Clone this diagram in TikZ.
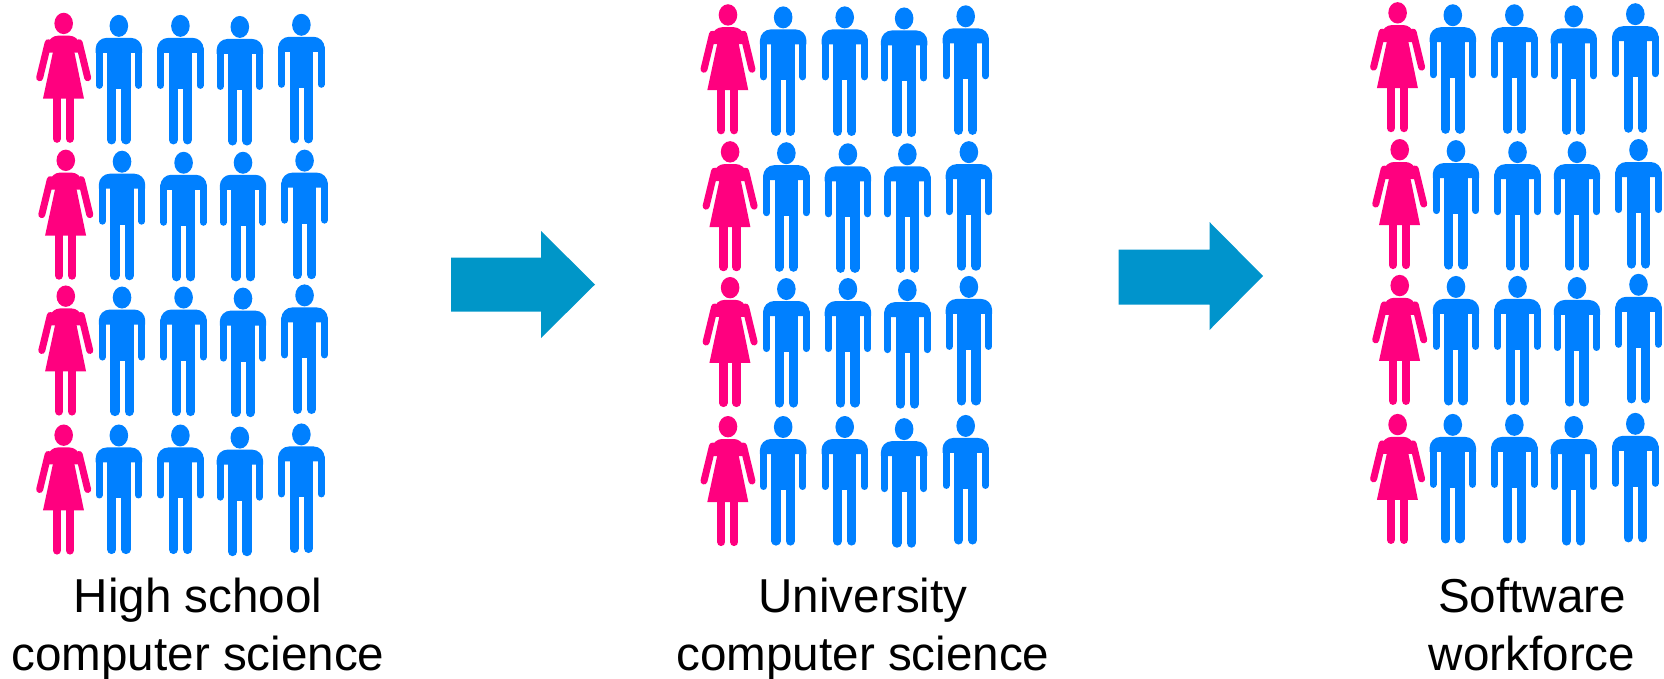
\documentclass[tikz,border=0pt]{standalone}
\usepackage{fontspec}
\setmainfont{Liberation Sans}
\definecolor{manblue}{HTML}{0080FF}
\definecolor{womanpink}{HTML}{FF007F}
\definecolor{arrowone}{HTML}{0096C8}
\definecolor{arrowtwo}{HTML}{0094CC}
\tikzset{
  limb/.style={line cap=round,line width=#1},
  caption/.style={font=\fontsize{47.6}{58}\selectfont,align=center,inner sep=0pt,text=black},
  pics/man/.style={code={
    \fill[manblue] (0,11) ellipse [x radius=9.3,y radius=11];
    \fill[manblue] (-23.2,38) [rounded corners=11] -- (-23.2,23) -- (23.2,23) [sharp corners] -- (23.2,38) -- cycle;
    \fill[manblue] (-11.7,30) rectangle (11.7,74);
    \draw[manblue,limb=7] (-19.7,34) -- (-19.7,70.5);
    \draw[manblue,limb=7] (19.7,34) -- (19.7,70.5);
    \draw[manblue,limb=9.2] (-7.1,70) -- (-7.1,125);
    \draw[manblue,limb=9.2] (7.1,70) -- (7.1,125);
  }},
  pics/woman/.style={code={
    \fill[womanpink] (0,10.7) ellipse [x radius=9.3,y radius=10.7];
    \fill[womanpink] (-18,40) [rounded corners=8] -- (-14,23) -- (14,23) [sharp corners] -- (18,40) -- cycle;
    \fill[womanpink] (-10,36) -- (10,36) -- (20.3,86) -- (-20.7,86) -- cycle;
    \draw[womanpink,limb=7] (-15.5,30) -- (-24,65);
    \draw[womanpink,limb=7] (15.5,30) -- (24,65);
    \draw[womanpink,limb=8.2] (-6.7,84) -- (-6.7,126);
    \draw[womanpink,limb=8.2] (6.3,84) -- (6.3,126);
  }}
}
\newcommand{\crowd}[2]{%
  \foreach \px/\py/\kind in {60/12/woman,112/14/man,170/14/man,226/15/man,284/13/man,
      62/141/woman,115/142/man,173/143/man,229/143/man,287/141/man,
      62/269/woman,115/270/man,173/270/man,229/271/man,287/268/man,
      60/400/woman,112/400/man,170/400/man,226/402/man,284/399/man}{
    \pic at ({(\px+#1)*1.0612},{(\py+#2)*1.0612}) {\kind};
  }%
}
\begin{document}
\begin{tikzpicture}[x=1pt,y=-1pt]
\useasboundingbox (0,0) rectangle (1664,678);
\crowd{0}{0}
\crowd{626}{-8}
\crowd{1257}{-10}
\fill[arrowone] (451,257.5) -- (541,257.5) -- (541,231) -- (595,284.5) -- (541,338) -- (541,311.5) -- (451,311.5) -- cycle;
\fill[arrowtwo] (1118.5,249.5) -- (1209.5,249.5) -- (1209.5,222) -- (1263,276) -- (1209.5,330) -- (1209.5,304.5) -- (1118.5,304.5) -- cycle;
\node[caption] (high) at (198,629) {High school\\computer science};
\node[caption] (uni) at (863,629) {University\\computer science};
\node[caption] (soft) at (1532,624) {Software\\workforce};
\end{tikzpicture}
\end{document}
